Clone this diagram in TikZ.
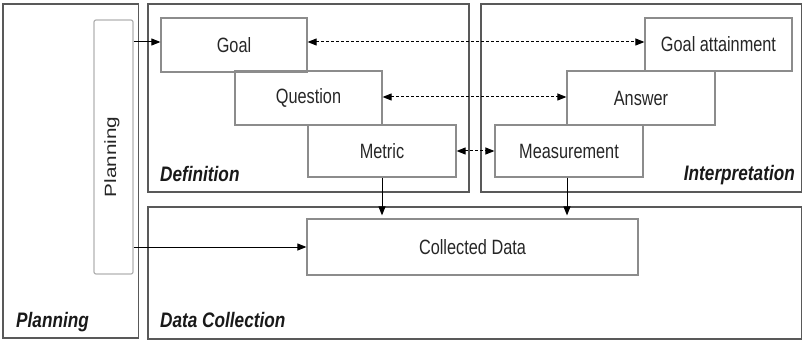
\documentclass[tikz,border=0pt]{standalone}
\usepackage{fontspec}
\usepackage{graphicx}
\setmainfont{Liberation Sans}
\usetikzlibrary{arrows.meta}

% text is set slightly tall
\newcommand{\tallt}[1]{\scalebox{1}[1.27]{#1}}
\newcommand{\talll}[1]{\scalebox{1}[1.22]{#1}}

\tikzset{
  region/.style={draw=black!65, line width=1.7pt},
  stage/.style={draw=black!45, line width=1.2pt, inner sep=0pt, text=black!85,
    font=\fontsize{16.3}{19}\selectfont},
  planbox/.style={draw=black!30, line width=1.2pt, rounded corners=2pt, inner sep=0pt},
  phase/.style={inner sep=0pt, text=black!90,
    font=\fontsize{17.2}{20}\selectfont\bfseries\itshape},
  arr/.style={-{Triangle[length=9pt,width=7pt]}, line width=1pt, black},
  darr/.style={{Triangle[length=9pt,width=7pt]}-{Triangle[length=9pt,width=7pt]},
    line width=1pt, black, dash pattern=on 3pt off 2pt},
}

\begin{document}
\begin{tikzpicture}[x=1pt, y=-1pt]
\useasboundingbox (0,0) rectangle (803,342);

% phase regions
\draw[region] (3,4) rectangle (138.5,338);
\draw[region] (148,4) rectangle (469,192);
\draw[region] (481,4) rectangle (801.5,192);
\draw[region] (148,207) rectangle (801.5,339);

% phase names
\node[phase, anchor=base west] (lplan) at (16,327.5) {\talll{Planning}};
\node[phase, anchor=base west] (ldef) at (160,181) {\talll{Definition}};
\node[phase, anchor=base east] (lint) at (795,180) {\talll{Interpretation}};
\node[phase, anchor=base west] (ldata) at (160,327.5) {\talll{Data Collection}};

% planning column
\node[planbox, minimum width=39pt, minimum height=254pt] (plan) at (113.5,147) {};
\node[stage, draw=none, rotate=90] (plantext) at (112,157) {\scalebox{1.27}[1]{Planning}};

% definition side
\node[stage, minimum width=146pt, minimum height=54pt] (goal) at (234,45) {\tallt{Goal}};
\node[stage, minimum width=147pt, minimum height=54pt] (question) at (308.5,98) {\tallt{Question}};
\node[stage, minimum width=148pt, minimum height=52pt] (metric) at (382,151) {\tallt{Metric}};

% interpretation side
\node[stage, minimum width=147pt, minimum height=53pt] (goalatt) at (718.5,44.5) {\tallt{Goal attainment}};
\node[stage, minimum width=148pt, minimum height=54pt] (answer) at (641,98) {\tallt{Answer}};
\node[stage, minimum width=148pt, minimum height=52pt] (measure) at (569,151) {\tallt{Measurement}};

% data collection
\node[stage, minimum width=331pt, minimum height=56pt] (data) at (472.5,247) {\tallt{Collected Data}};

% connectors
\draw[arr] ([yshift=3pt]goal.west -| plan.east) -- ([yshift=3pt]goal.west);
\draw[arr] (plan.east |- data.west) -- (data.west);
\draw[darr] ([yshift=3pt]goal.east) -- ([yshift=3pt]goal.east -| goalatt.west);
\draw[darr] ([yshift=1pt]question.east) -- ([yshift=1pt]question.east -| answer.west);
\draw[darr] (metric.east) -- (measure.west);
\draw[arr] (metric.south) -- ([yshift=3pt]metric.south |- data.north);
\draw[arr] ([xshift=-2pt]measure.south) -- ([xshift=-2pt,yshift=3pt]measure.south |- data.north);
\end{tikzpicture}
\end{document}
